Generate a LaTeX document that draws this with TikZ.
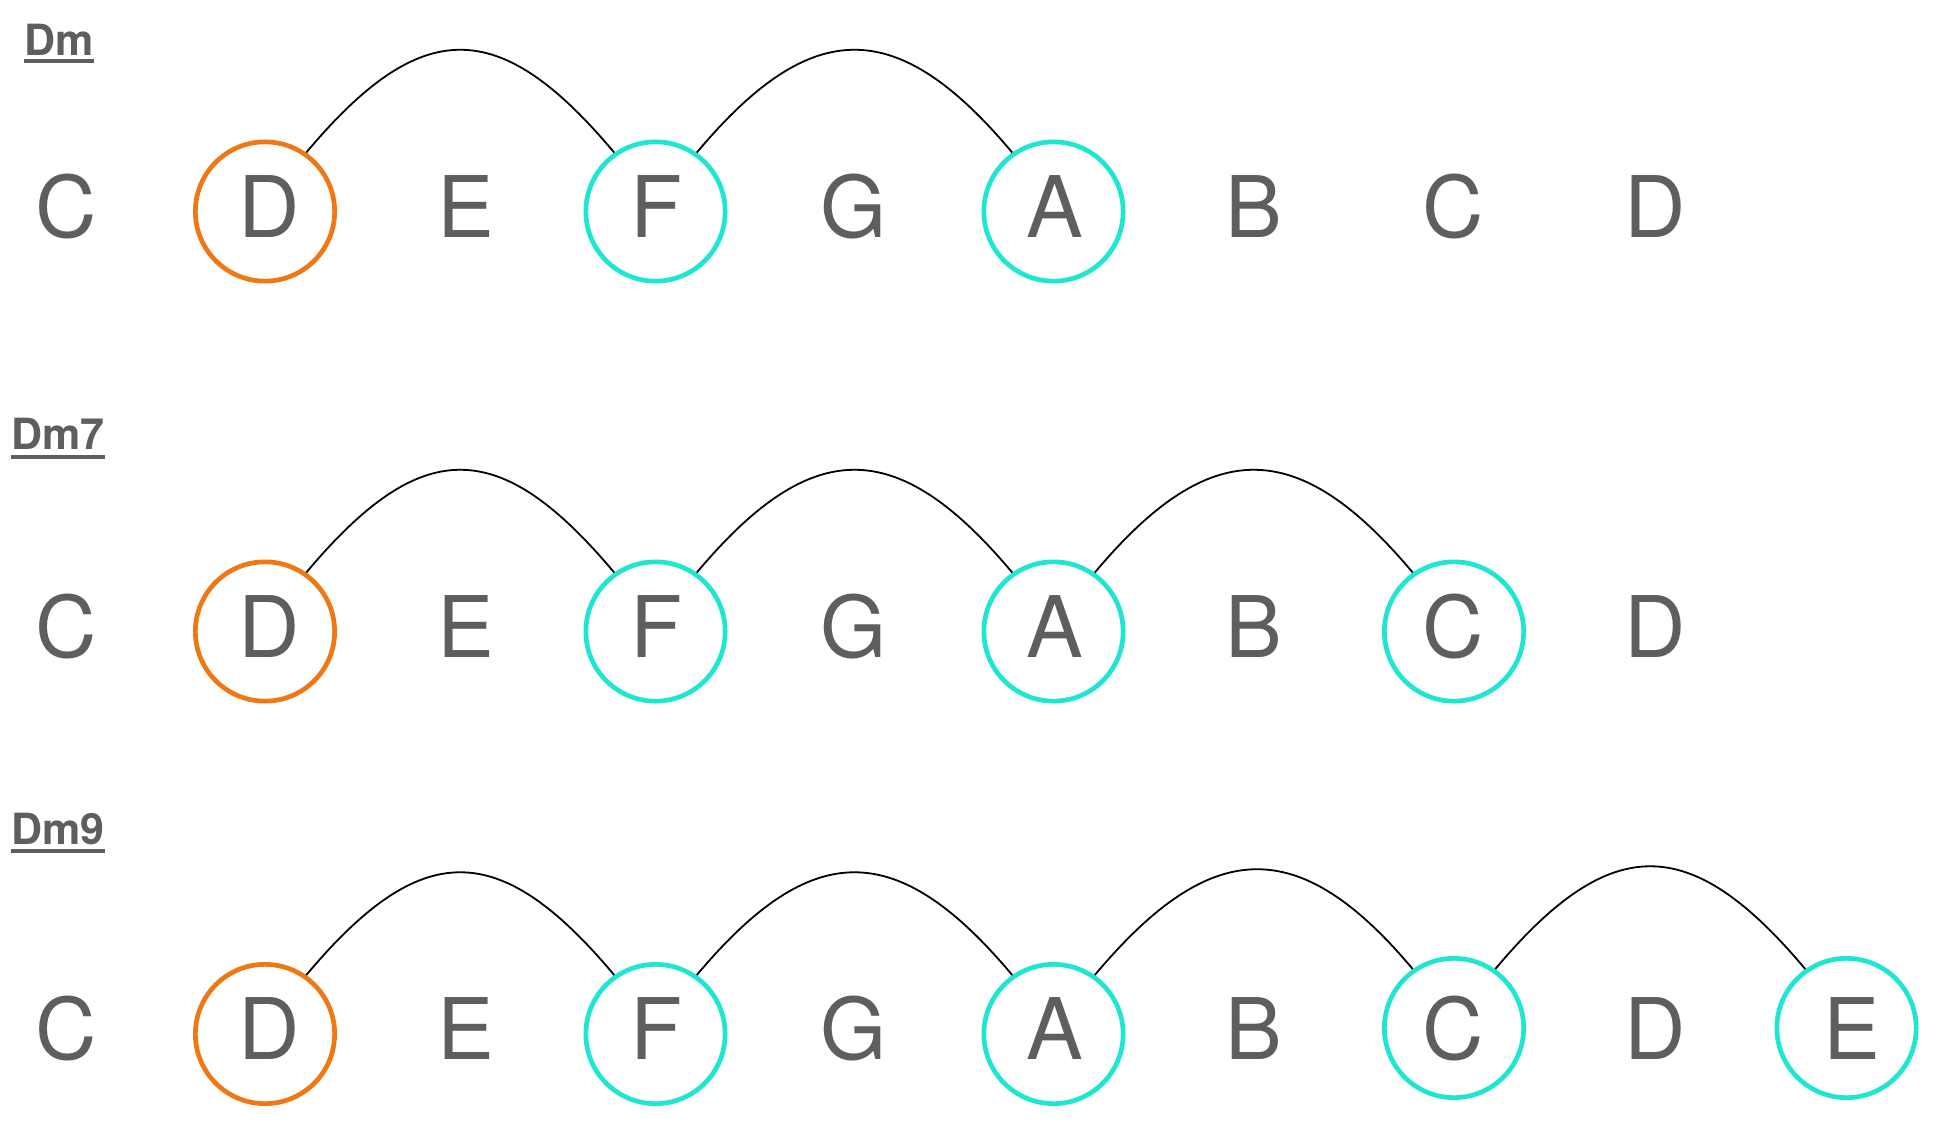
\documentclass[tikz,border=0pt]{standalone}
\usepackage{fontspec}
\setmainfont{TeX Gyre Heros}
\usetikzlibrary{calc}
\definecolor{txt}{HTML}{5E5E5E}
\definecolor{rootc}{HTML}{F07814}
\definecolor{tonec}{HTML}{1EE6D2}
\begin{document}
\begin{tikzpicture}[x=1pt,y=-1pt,
  note/.style={anchor=base,inner sep=0pt,text=txt,font=\fontsize{85}{100}\selectfont},
  ring/.style={circle,draw,line width=4.7pt,minimum size=139.3pt,inner sep=0pt},
  rootring/.style={ring,draw=rootc},
  tonering/.style={ring,draw=tonec},
  chord/.style={anchor=base west,inner sep=0pt,text=txt,font=\fontsize{43}{50}\selectfont\bfseries},
  uline/.style={draw=txt,line width=3.4pt},
  link/.style={line width=1.8pt,black}]
\fill[white] (0,0) rectangle (1942,1134);
\useasboundingbox (0,0) rectangle (1942,1134);

% ---------- row 1: Dm ----------
\node[chord] (l1) at (24,56) {Dm};
\draw[uline] ($(l1.base west)+(0,5)$) -- ($(l1.base east)+(0,5)$);
\node[rootring] (r1D) at (265,211.5) {};
\node[tonering] (r1F) at (655.5,211.5) {};
\node[tonering] (r1A) at (1053.5,211.5) {};
\foreach \x/\t [count=\i] in {66.5/C,269/D,466/E,656/F,853.5/G,1055/A,1253.5/B,1453/C,1655/D}
  \node[note] (r1n\i) at (\x,237) {\t};
\draw[link] (r1D.55) .. controls +(115,-137) and +(-115,-137) .. (r1F.125);
\draw[link] (r1F.55) .. controls +(115,-137) and +(-115,-137) .. (r1A.125);

% ---------- row 2: Dm7 ----------
\node[chord] (l2) at (11,449) {Dm7};
\draw[uline] ($(l2.base west)+(0,8)$) -- ($(l2.base east)+(0,8)$);
\node[rootring] (r2D) at (265,631.5) {};
\node[tonering] (r2F) at (655.5,631.5) {};
\node[tonering] (r2A) at (1053.5,631.5) {};
\node[tonering] (r2C) at (1454,631.5) {};
\foreach \x/\t [count=\i] in {66.5/C,269/D,466/E,656/F,853.5/G,1055/A,1253.5/B,1453/C,1655/D}
  \node[note] (r2n\i) at (\x,657) {\t};
\draw[link] (r2D.55) .. controls +(115,-137) and +(-115,-137) .. (r2F.125);
\draw[link] (r2F.55) .. controls +(115,-137) and +(-115,-137) .. (r2A.125);
\draw[link] (r2A.55) .. controls +(115,-137) and +(-115,-137) .. (r2C.125);

% ---------- row 3: Dm9 ----------
\node[chord] (l3) at (11,844) {Dm9};
\draw[uline] ($(l3.base west)+(0,7)$) -- ($(l3.base east)+(0,7)$);
\node[rootring] (r3D) at (265,1034) {};
\node[tonering] (r3F) at (655.5,1034) {};
\node[tonering] (r3A) at (1053.5,1034) {};
\node[tonering] (r3C) at (1454,1028) {};
\node[tonering] (r3E) at (1846.5,1028) {};
\foreach \x/\t [count=\i] in {66.5/C,269/D,466/E,656/F,853.5/G,1055/A,1253.5/B,1453/C,1655/D,1852/E}
  \node[note] (r3n\i) at (\x,1059) {\t};
\draw[link] (r3D.55) .. controls +(115,-137) and +(-115,-137) .. (r3F.125);
\draw[link] (r3F.55) .. controls +(115,-137) and +(-115,-137) .. (r3A.125);
\draw[link] (r3A.55) .. controls +(115,-137) and +(-115,-137) .. (r3C.125);
\draw[link] (r3C.55) .. controls +(115,-137) and +(-115,-137) .. (r3E.125);
\end{tikzpicture}
\end{document}
